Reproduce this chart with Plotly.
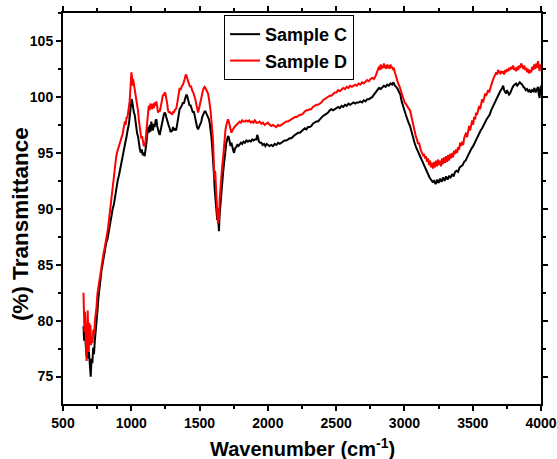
import plotly.graph_objects as go

# ---------------- data ----------------
c_wavenumber = [
    650, 655, 660, 665, 672, 678, 684, 690, 697, 703, 709, 715, 721, 727, 733, 739, 745, 752, 759, 766,
    773, 781, 790, 799, 808, 817, 826, 837, 846, 855, 864, 873, 882, 891, 900, 910, 920, 930, 939, 948,
    956, 963, 969, 976, 983, 990, 997, 1002, 1007, 1013, 1019, 1025, 1031, 1037, 1043, 1049, 1056, 1063, 1070, 1077,
    1084, 1091, 1098, 1105, 1112, 1118, 1124, 1130, 1135, 1141, 1147, 1153, 1159, 1165, 1171, 1178, 1184, 1190, 1196, 1202,
    1208, 1214, 1220, 1226, 1232, 1238, 1244, 1250, 1256, 1263, 1269, 1275, 1281, 1287, 1293, 1300, 1306, 1312, 1318, 1324,
    1330, 1336, 1342, 1348, 1354, 1360, 1366, 1372, 1379, 1385, 1391, 1397, 1403, 1409, 1415, 1421, 1427, 1433, 1439, 1445,
    1451, 1458, 1464, 1470, 1476, 1482, 1489, 1495, 1501, 1507, 1513, 1519, 1525, 1531, 1537, 1543, 1549, 1555, 1561, 1569,
    1575, 1580, 1586, 1592, 1598, 1604, 1611, 1617, 1623, 1629, 1634, 1638, 1642, 1646, 1650, 1655, 1660, 1666, 1672, 1678,
    1684, 1690, 1696, 1702, 1708, 1714, 1720, 1727, 1733, 1740, 1747, 1753, 1760, 1768, 1776, 1785, 1794, 1803, 1812, 1822,
    1832, 1843, 1854, 1864, 1875, 1885, 1895, 1905, 1916, 1922, 1928, 1935, 1944, 1952, 1962, 1972, 1982, 1992, 2002, 2012,
    2025, 2037, 2050, 2062, 2075, 2087, 2099, 2110, 2122, 2135, 2147, 2160, 2172, 2185, 2197, 2210, 2222, 2235, 2245, 2257,
    2270, 2282, 2294, 2306, 2318, 2330, 2343, 2355, 2367, 2380, 2392, 2404, 2417, 2429, 2441, 2453, 2465, 2478, 2490, 2502,
    2515, 2527, 2540, 2552, 2565, 2577, 2590, 2602, 2615, 2627, 2640, 2652, 2665, 2677, 2690, 2702, 2715, 2727, 2740, 2752,
    2765, 2777, 2790, 2802, 2814, 2826, 2838, 2850, 2862, 2874, 2886, 2898, 2910, 2920, 2930, 2940, 2950, 2960, 2970, 2980,
    2990, 3000, 3010, 3020, 3030, 3041, 3052, 3063, 3074, 3085, 3096, 3107, 3118, 3129, 3140, 3151, 3162, 3173, 3184, 3195,
    3206, 3217, 3228, 3239, 3250, 3261, 3272, 3283, 3294, 3305, 3316, 3327, 3338, 3349, 3360, 3371, 3382, 3393, 3404, 3415,
    3426, 3437, 3448, 3459, 3470, 3481, 3492, 3503, 3514, 3525, 3536, 3547, 3558, 3569, 3580, 3591, 3602, 3613, 3624, 3635,
    3646, 3657, 3668, 3679, 3690, 3701, 3712, 3723, 3730, 3737, 3744, 3751, 3758, 3766, 3773, 3781, 3790, 3799, 3808, 3817,
    3826, 3835, 3844, 3853, 3862, 3871, 3880, 3889, 3898, 3907, 3916, 3925, 3934, 3943, 3952, 3961, 3970, 3978, 3984, 3990,
    3995, 4000,
]
c_transmittance = [
    79.5, 78.2, 79.0, 77.8, 76.8, 77.9, 76.6, 77.2, 76.0, 75.0, 76.6, 76.2, 77.6, 77.0, 78.2, 78.9, 80.2, 80.8, 82.0, 82.6,
    83.5, 84.4, 85.0, 85.9, 86.4, 87.0, 87.3, 88.2, 88.9, 89.3, 90.0, 90.4, 91.2, 91.7, 92.5, 93.0, 93.7, 94.1, 94.8, 95.4,
    95.9, 96.3, 96.6, 97.2, 97.6, 98.3, 99.0, 99.8, 99.6, 99.0, 98.6, 98.4, 97.8, 97.1, 96.7, 96.5, 95.7, 95.3, 95.0, 95.3,
    94.8, 94.9, 94.7, 95.2, 96.0, 96.8, 97.3, 96.8, 97.5, 96.9, 97.8, 97.2, 97.0, 97.6, 97.3, 97.9, 98.0, 97.4, 97.0, 96.8,
    96.6, 97.0, 97.3, 97.6, 98.1, 98.4, 98.6, 98.5, 98.2, 97.8, 97.7, 97.4, 97.2, 96.9, 96.9, 97.0, 97.3, 97.0, 97.2, 97.0,
    97.1, 97.6, 98.3, 98.8, 98.9, 99.0, 99.1, 99.3, 99.5, 99.4, 99.7, 99.9, 100.2, 100.1, 99.7, 99.5, 99.2, 99.3, 99.0, 98.9,
    98.6, 98.7, 98.3, 98.0, 97.6, 97.3, 97.1, 97.3, 97.5, 97.7, 97.8, 98.2, 98.4, 98.6, 98.7, 98.7, 98.5, 98.3, 98.2, 98.0,
    97.6, 97.2, 96.5, 95.6, 94.7, 93.3, 91.7, 90.9, 90.2, 89.0, 89.5, 88.2, 88.0, 89.3, 90.0, 90.8, 91.2, 92.3, 93.2, 93.9,
    94.7, 95.4, 95.9, 96.2, 96.5, 96.4, 96.0, 95.6, 95.9, 95.4, 95.2, 95.0, 95.4, 95.5, 95.7, 95.6, 95.8, 95.9, 95.8, 96.0,
    95.9, 96.1, 96.0, 96.1, 96.0, 96.2, 96.1, 96.2, 96.2, 96.6, 96.4, 96.0, 95.9, 95.9, 95.7, 95.8, 95.6, 95.8, 95.7, 95.6,
    95.7, 95.6, 95.8, 95.7, 95.9, 95.8, 95.9, 96.0, 96.1, 96.1, 96.2, 96.3, 96.3, 96.5, 96.6, 96.7, 96.8, 96.8, 96.9, 97.0,
    97.2, 97.1, 97.3, 97.3, 97.4, 97.6, 97.7, 97.8, 97.8, 98.0, 98.1, 98.3, 98.4, 98.5, 98.6, 98.8, 98.9, 98.8, 98.9, 99.0,
    99.1, 99.0, 99.2, 99.1, 99.3, 99.2, 99.4, 99.3, 99.4, 99.5, 99.4, 99.5, 99.5, 99.6, 99.5, 99.7, 99.6, 99.8, 99.8, 99.9,
    100.0, 100.2, 100.4, 100.6, 100.8, 100.7, 100.9, 101.0, 100.9, 101.1, 101.0, 101.2, 101.1, 101.3, 101.0, 100.9, 100.7, 100.5, 100.2, 99.6,
    99.1, 98.8, 98.4, 98.0, 97.7, 97.4, 96.8, 96.2, 95.9, 95.5, 95.2, 94.9, 94.6, 94.2, 93.9, 93.6, 93.3, 93.0, 92.8, 92.6,
    92.4, 92.5, 92.2, 92.6, 92.3, 92.7, 92.4, 92.8, 92.5, 92.9, 92.6, 92.9, 92.8, 93.1, 92.9, 93.3, 93.4, 93.3, 93.7, 93.8,
    93.9, 94.2, 94.3, 94.6, 94.9, 95.1, 95.4, 95.6, 95.9, 96.2, 96.4, 96.7, 97.0, 97.2, 97.5, 97.7, 98.0, 98.2, 98.4, 98.8,
    99.1, 99.4, 99.7, 100.0, 100.3, 100.5, 100.7, 101.0, 100.6, 100.4, 100.3, 100.6, 100.4, 100.2, 100.3, 100.6, 100.8, 101.0, 101.1, 101.2,
    101.0, 101.2, 101.3, 101.2, 101.1, 100.9, 100.8, 100.6, 100.7, 100.5, 100.6, 100.4, 100.6, 100.5, 100.8, 100.4, 100.7, 100.9, 100.2, 99.9,
    100.7, 101.0,
]

d_wavenumber = [
    650, 653, 657, 661, 665, 669, 673, 677, 681, 685, 689, 693, 697, 701, 705, 710, 716, 722, 728, 734,
    740, 746, 752, 758, 764, 770, 777, 784, 791, 798, 805, 812, 819, 825, 830, 836, 842, 848, 853, 859,
    865, 871, 877, 883, 889, 895, 901, 908, 915, 922, 929, 935, 941, 947, 953, 959, 965, 971, 977, 983,
    988, 993, 997, 1001, 1005, 1009, 1013, 1018, 1024, 1030, 1037, 1043, 1049, 1055, 1061, 1067, 1073, 1079, 1086, 1092,
    1098, 1104, 1110, 1116, 1122, 1128, 1134, 1140, 1147, 1153, 1159, 1165, 1171, 1177, 1184, 1190, 1196, 1202, 1208, 1214,
    1220, 1226, 1232, 1238, 1244, 1250, 1256, 1263, 1269, 1275, 1281, 1287, 1293, 1300, 1306, 1312, 1318, 1324, 1330, 1336,
    1342, 1348, 1354, 1360, 1366, 1372, 1379, 1385, 1391, 1397, 1401, 1406, 1412, 1418, 1424, 1430, 1436, 1442, 1448, 1454,
    1460, 1466, 1472, 1478, 1484, 1489, 1495, 1501, 1507, 1513, 1519, 1525, 1531, 1537, 1543, 1549, 1555, 1562, 1568, 1574,
    1580, 1586, 1592, 1598, 1604, 1609, 1614, 1619, 1623, 1627, 1631, 1635, 1639, 1643, 1647, 1652, 1658, 1664, 1671, 1678,
    1684, 1690, 1696, 1702, 1708, 1714, 1720, 1727, 1733, 1740, 1747, 1755, 1762, 1769, 1776, 1785, 1794, 1803, 1812, 1822,
    1833, 1843, 1854, 1864, 1875, 1885, 1895, 1905, 1916, 1928, 1940, 1952, 1964, 1976, 1988, 2001, 2013, 2025, 2037, 2050,
    2062, 2075, 2087, 2099, 2110, 2122, 2135, 2147, 2160, 2172, 2185, 2197, 2210, 2222, 2235, 2245, 2257, 2270, 2282, 2294,
    2306, 2318, 2330, 2343, 2355, 2367, 2380, 2392, 2404, 2417, 2429, 2441, 2453, 2465, 2478, 2490, 2502, 2515, 2527, 2540,
    2552, 2565, 2577, 2590, 2602, 2615, 2627, 2640, 2652, 2665, 2677, 2690, 2702, 2715, 2727, 2740, 2752, 2765, 2777, 2790,
    2802, 2814, 2820, 2826, 2832, 2838, 2844, 2850, 2856, 2862, 2868, 2874, 2880, 2886, 2892, 2898, 2904, 2910, 2916, 2922,
    2930, 2938, 2946, 2954, 2962, 2970, 2978, 2986, 2994, 3002, 3010, 3018, 3026, 3034, 3041, 3048, 3056, 3063, 3070, 3077,
    3085, 3092, 3100, 3107, 3114, 3121, 3129, 3136, 3143, 3151, 3158, 3165, 3173, 3180, 3188, 3195, 3202, 3210, 3217, 3224,
    3232, 3239, 3246, 3254, 3261, 3268, 3276, 3283, 3290, 3298, 3305, 3312, 3320, 3327, 3334, 3342, 3349, 3356, 3364, 3371,
    3378, 3386, 3393, 3400, 3408, 3415, 3422, 3430, 3437, 3444, 3452, 3459, 3466, 3474, 3481, 3488, 3496, 3503, 3510, 3518,
    3525, 3532, 3540, 3547, 3554, 3562, 3569, 3576, 3584, 3591, 3598, 3606, 3613, 3620, 3628, 3635, 3642, 3650, 3657, 3664,
    3672, 3679, 3686, 3694, 3701, 3708, 3716, 3723, 3730, 3738, 3745, 3752, 3760, 3767, 3774, 3782, 3789, 3796, 3804, 3811,
    3818, 3826, 3833, 3840, 3848, 3855, 3862, 3870, 3877, 3884, 3892, 3899, 3906, 3914, 3921, 3928, 3936, 3943, 3950, 3958,
    3965, 3972, 3978, 3984, 3990, 3995, 4000,
]
d_transmittance = [
    82.5, 80.5, 79.0, 80.8, 78.5, 77.0, 76.4, 78.2, 80.9, 78.3, 77.2, 79.8, 78.0, 79.6, 77.8, 78.6, 78.0, 79.2, 78.8, 80.0,
    80.6, 81.3, 82.4, 83.0, 83.6, 84.2, 84.4, 85.0, 85.8, 86.1, 86.5, 86.9, 87.4, 87.9, 88.3, 89.0, 89.6, 90.3, 90.8, 91.7,
    92.4, 92.9, 93.4, 94.0, 94.6, 95.0, 95.3, 95.6, 95.8, 96.1, 96.4, 96.6, 97.0, 97.4, 97.8, 97.5, 98.2, 98.1, 98.6, 99.2,
    99.6, 100.6, 101.5, 102.2, 101.8, 101.0, 101.6, 101.2, 100.9, 100.4, 100.0, 99.4, 98.8, 98.0, 97.3, 96.8, 96.3, 96.5, 95.8, 95.6,
    95.7, 96.0, 96.9, 97.8, 98.5, 99.2, 98.8, 99.4, 99.2, 98.9, 99.4, 99.0, 99.5, 99.2, 99.6, 99.0, 98.6, 98.8, 98.7, 99.0,
    99.4, 99.9, 100.2, 100.1, 100.4, 100.3, 100.0, 99.4, 98.8, 98.6, 98.7, 98.5, 98.6, 98.4, 98.7, 98.6, 98.8, 98.9, 99.0, 99.4,
    100.0, 100.4, 100.8, 100.6, 100.9, 101.0, 101.1, 101.3, 101.6, 101.9, 102.0, 101.8, 101.6, 101.3, 101.1, 100.9, 101.0, 100.7, 100.5, 100.4,
    100.2, 99.9, 99.6, 99.3, 98.9, 98.6, 98.9, 99.3, 99.7, 100.0, 100.3, 100.6, 100.8, 100.9, 100.8, 100.6, 100.5, 100.3, 99.9, 99.5,
    98.8, 98.0, 97.2, 96.2, 94.3, 92.6, 93.4, 91.6, 92.0, 90.3, 89.3, 88.7, 90.1, 89.0, 90.8, 91.9, 93.0, 93.6, 94.4, 95.6,
    96.4, 97.1, 97.5, 97.8, 98.0, 97.8, 97.5, 97.0, 96.8, 97.0, 97.2, 97.3, 97.4, 97.5, 97.6, 97.7, 97.8, 97.7, 97.9, 97.8,
    97.8, 97.9, 97.8, 97.9, 97.7, 97.8, 97.7, 97.9, 97.7, 97.7, 97.8, 97.6, 97.7, 97.5, 97.6, 97.7, 97.5, 97.4, 97.5, 97.4,
    97.3, 97.5, 97.4, 97.5, 97.6, 97.7, 97.8, 97.8, 97.9, 98.0, 98.1, 98.2, 98.2, 98.3, 98.4, 98.4, 98.5, 98.7, 98.8, 98.8,
    98.9, 98.9, 99.1, 99.2, 99.3, 99.3, 99.4, 99.5, 99.7, 99.8, 99.9, 100.0, 100.1, 100.1, 100.3, 100.4, 100.4, 100.6, 100.5, 100.7,
    100.8, 100.7, 100.9, 100.8, 101.0, 100.9, 101.0, 101.1, 101.0, 101.2, 101.1, 101.3, 101.2, 101.4, 101.5, 101.4, 101.6, 101.7, 101.6, 101.9,
    102.3, 102.7, 102.4, 102.9, 102.5, 102.8, 102.6, 103.0, 102.6, 102.8, 102.5, 102.9, 102.6, 102.8, 102.5, 102.9, 102.6, 102.7, 102.4, 102.6,
    102.2, 101.8, 101.6, 101.2, 101.0, 100.7, 100.3, 100.0, 99.8, 99.5, 99.4, 99.2, 99.0, 98.9, 98.8, 98.4, 97.8, 97.4, 97.1, 96.8,
    96.4, 96.2, 95.8, 95.9, 95.5, 95.2, 95.0, 94.8, 94.9, 94.5, 94.7, 94.2, 94.5, 93.9, 94.3, 93.7, 94.1, 93.6, 94.2, 93.7,
    94.3, 93.8, 94.4, 93.9, 94.3, 93.8, 94.5, 94.0, 94.6, 94.1, 94.7, 94.2, 94.8, 94.3, 94.9, 94.5, 95.0, 94.6, 95.2, 94.9,
    95.3, 95.0, 95.5, 95.3, 95.9, 95.6, 96.0, 95.7, 96.3, 96.5, 96.8, 96.4, 97.1, 97.4, 97.0, 97.6, 97.9, 97.5, 98.2, 98.0,
    98.6, 98.4, 98.9, 99.2, 98.9, 99.5, 99.8, 99.5, 100.0, 100.3, 100.1, 100.5, 100.6, 100.4, 100.8, 101.1, 101.3, 101.6, 101.8, 102.0,
    102.2, 102.0, 102.4, 102.2, 102.1, 102.3, 102.1, 102.3, 102.0, 102.4, 102.2, 102.5, 102.3, 102.6, 102.4, 102.7, 102.5, 102.8, 102.4, 102.6,
    102.3, 102.7, 102.4, 102.8, 102.6, 103.0, 102.7, 102.5, 102.8, 102.4, 102.6, 102.2, 102.5, 102.1, 102.4, 102.2, 102.7, 102.4, 102.9, 102.5,
    103.0, 102.6, 103.2, 102.7, 102.3, 102.9, 102.5,
]

series_names = ["Sample C", "Sample D"]
series_colors = ["#000000", "#ff0000"]

x_ticks = [500, 1000, 1500, 2000, 2500, 3000, 3500, 4000]
y_ticks = [75, 80, 85, 90, 95, 100, 105]

x_title = "Wavenumber (cm<sup>-1</sup>)"
y_title = "(%) Transmittance"

# ---------------- figure ----------------
FONT = "Arial, 'Liberation Sans', sans-serif"

fig = go.Figure()
fig.add_trace(go.Scatter(x=c_wavenumber, y=c_transmittance, mode="lines",
                         name=series_names[0], line=dict(color=series_colors[0], width=2)))
fig.add_trace(go.Scatter(x=d_wavenumber, y=d_transmittance, mode="lines",
                         name=series_names[1], line=dict(color=series_colors[1], width=2)))

axis_common = dict(
    showline=True, linecolor="black", linewidth=2, mirror="ticks",
    ticks="outside", ticklen=5, tickwidth=1.5, tickcolor="black",
    showgrid=False, zeroline=False, automargin=False,
    tickfont=dict(family=FONT, size=14, color="black", weight="bold"),
)

fig.update_xaxes(
    range=[500, 4000], tickvals=x_ticks,
    minor=dict(ticks="outside", ticklen=3, tickwidth=1.5, tickcolor="black", dtick=250, tick0=500, showgrid=False),
    **axis_common,
)
fig.update_yaxes(
    range=[72.55, 107.5], tickvals=y_ticks,
    minor=dict(ticks="outside", ticklen=3, tickwidth=1.5, tickcolor="black", dtick=2.5, tick0=0, showgrid=False),
    **axis_common,
)

fig.add_annotation(
    text=x_title, xref="paper", yref="paper", x=0.501, y=-0.11,
    xanchor="center", yanchor="middle", showarrow=False,
    font=dict(family=FONT, size=20, color="black", weight="bold"),
)
fig.add_annotation(
    text=y_title, xref="paper", yref="paper", x=-0.09, y=0.46,
    xanchor="center", yanchor="middle", showarrow=False, textangle=-90,
    font=dict(family=FONT, size=22.5, color="black", weight="bold"),
)

fig.update_layout(
    width=557, height=459,
    margin=dict(l=63, r=16, t=13, b=55, autoexpand=False),
    paper_bgcolor="white", plot_bgcolor="white",
    showlegend=True,
    legend=dict(
        x=0.337, y=0.995, xanchor="left", yanchor="top",
        bordercolor="black", borderwidth=1, bgcolor="white",
        font=dict(family=FONT, size=18, color="black", weight="bold"),
        tracegroupgap=0,
    ),
)

fig.write_html("out.html", config={"displayModeBar": False},
               post_script="document.body.style.margin='0px';")
